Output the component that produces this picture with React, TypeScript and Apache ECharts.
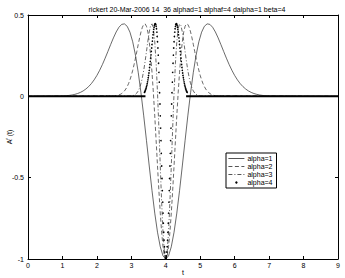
import React, { useEffect, useRef } from "react";
import * as echarts from "echarts";

const titleText = "rickert 20-Mar-2006 14  36 alphad=1 alphaf=4 dalpha=1 beta=4";
const seriesNames = ["alpha=1", "alpha=2", "alpha=3", "alpha=4"];
const xTicks = [0, 1, 2, 3, 4, 5, 6, 7, 8, 9];
const yTicks = [-1, -0.5, 0, 0.5];

const alpha1: number[][] = [
  [0, 0],
  [1.04, 0.0026], [1.12, 0.0039], [1.2, 0.0058], [1.28, 0.0084], [1.36, 0.0122], [1.44, 0.0173], [1.52, 0.0241], [1.6, 0.0331], [1.68, 0.0449], [1.76, 0.0598], [1.84, 0.0784], [1.92, 0.1012], [2.0, 0.1282], [2.08, 0.1598], [2.16, 0.1954], [2.24, 0.2346], [2.32, 0.2761], [2.4, 0.3185], [2.48, 0.3593], [2.56, 0.3957], [2.64, 0.4246], [2.72, 0.4424], [2.8, 0.4454], [2.88, 0.4304], [2.96, 0.3944], [3.04, 0.3355], [3.12, 0.253], [3.2, 0.1476], [3.28, 0.0219], [3.36, -0.12], [3.44, -0.2724], [3.52, -0.4282], [3.6, -0.5795], [3.68, -0.7178], [3.76, -0.8353], [3.84, -0.9248], [3.92, -0.9809], [4.0, -1],
  [4.08, -0.9809], [4.16, -0.9248], [4.24, -0.8353], [4.32, -0.7178], [4.4, -0.5795], [4.48, -0.4282], [4.56, -0.2724], [4.64, -0.12], [4.72, 0.0219], [4.8, 0.1476], [4.88, 0.253], [4.96, 0.3355], [5.04, 0.3944], [5.12, 0.4304], [5.2, 0.4454], [5.28, 0.4424], [5.36, 0.4246], [5.44, 0.3957], [5.52, 0.3593], [5.6, 0.3185], [5.68, 0.2761], [5.76, 0.2346], [5.84, 0.1954], [5.92, 0.1598], [6.0, 0.1282], [6.08, 0.1012], [6.16, 0.0784], [6.24, 0.0598], [6.32, 0.0449], [6.4, 0.0331], [6.48, 0.0241], [6.56, 0.0173], [6.64, 0.0122], [6.72, 0.0084], [6.8, 0.0058], [6.88, 0.0039], [6.96, 0.0026],
  [9, 0],
];

const alpha2: number[][] = [
  [0, 0],
  [2.52, 0.0026], [2.56, 0.0039], [2.6, 0.0058], [2.64, 0.0084], [2.68, 0.0122], [2.72, 0.0173], [2.76, 0.0241], [2.8, 0.0331], [2.84, 0.0449], [2.88, 0.0598], [2.92, 0.0784], [2.96, 0.1012], [3.0, 0.1282], [3.04, 0.1598], [3.08, 0.1954], [3.12, 0.2346], [3.16, 0.2761], [3.2, 0.3185], [3.24, 0.3593], [3.28, 0.3957], [3.32, 0.4246], [3.36, 0.4424], [3.4, 0.4454], [3.44, 0.4304], [3.48, 0.3944], [3.52, 0.3355], [3.56, 0.253], [3.6, 0.1476], [3.64, 0.0219], [3.68, -0.12], [3.72, -0.2724], [3.76, -0.4282], [3.8, -0.5795], [3.84, -0.7178], [3.88, -0.8353], [3.92, -0.9248], [3.96, -0.9809], [4.0, -1],
  [4.04, -0.9809], [4.08, -0.9248], [4.12, -0.8353], [4.16, -0.7178], [4.2, -0.5795], [4.24, -0.4282], [4.28, -0.2724], [4.32, -0.12], [4.36, 0.0219], [4.4, 0.1476], [4.44, 0.253], [4.48, 0.3355], [4.52, 0.3944], [4.56, 0.4304], [4.6, 0.4454], [4.64, 0.4424], [4.68, 0.4246], [4.72, 0.3957], [4.76, 0.3593], [4.8, 0.3185], [4.84, 0.2761], [4.88, 0.2346], [4.92, 0.1954], [4.96, 0.1598], [5.0, 0.1282], [5.04, 0.1012], [5.08, 0.0784], [5.12, 0.0598], [5.16, 0.0449], [5.2, 0.0331], [5.24, 0.0241], [5.28, 0.0173], [5.32, 0.0122], [5.36, 0.0084], [5.4, 0.0058], [5.44, 0.0039], [5.48, 0.0026],
  [9, 0],
];

const alpha3: number[][] = [
  [0, 0],
  [3.0, 0.0021], [3.04, 0.0039], [3.08, 0.007], [3.12, 0.0122], [3.16, 0.0204], [3.2, 0.0331], [3.24, 0.0519], [3.28, 0.0784], [3.32, 0.1141], [3.36, 0.1598], [3.4, 0.2146], [3.44, 0.2761], [3.48, 0.3393], [3.52, 0.3957], [3.56, 0.4351], [3.6, 0.4454], [3.64, 0.4152], [3.68, 0.3355], [3.72, 0.2031], [3.76, 0.0219], [3.8, -0.1953], [3.84, -0.4282], [3.88, -0.6507], [3.92, -0.8353], [3.96, -0.9573], [4.0, -1],
  [4.04, -0.9573], [4.08, -0.8353], [4.12, -0.6507], [4.16, -0.4282], [4.2, -0.1953], [4.24, 0.0219], [4.28, 0.2031], [4.32, 0.3355], [4.36, 0.4152], [4.4, 0.4454], [4.44, 0.4351], [4.48, 0.3957], [4.52, 0.3393], [4.56, 0.2761], [4.6, 0.2146], [4.64, 0.1598], [4.68, 0.1141], [4.72, 0.0784], [4.76, 0.0519], [4.8, 0.0331], [4.84, 0.0204], [4.88, 0.0122], [4.92, 0.007], [4.96, 0.0039], [5.0, 0.0021],
  [9, 0],
];

// alpha=4 is drawn with dots (one per sample)
const alpha4: number[][] = [
  [3.38, 0.0241], [3.39, 0.0283], [3.4, 0.0331], [3.41, 0.0386], [3.42, 0.0449], [3.43, 0.0519], [3.44, 0.0598], [3.45, 0.0686], [3.46, 0.0784], [3.47, 0.0892], [3.48, 0.1012], [3.49, 0.1141], [3.5, 0.1282], [3.51, 0.1434], [3.52, 0.1598], [3.53, 0.1771], [3.54, 0.1954], [3.55, 0.2146], [3.56, 0.2346], [3.57, 0.2552], [3.58, 0.2761], [3.59, 0.2973], [3.6, 0.3185], [3.61, 0.3393], [3.62, 0.3593], [3.63, 0.3782], [3.64, 0.3957], [3.65, 0.4113], [3.66, 0.4246], [3.67, 0.4351], [3.68, 0.4424], [3.69, 0.446], [3.7, 0.4454], [3.71, 0.4404], [3.72, 0.4304], [3.73, 0.4152], [3.74, 0.3944], [3.75, 0.3679], [3.76, 0.3355], [3.77, 0.2972], [3.78, 0.253], [3.79, 0.2031], [3.8, 0.1476], [3.81, 0.0871], [3.82, 0.0219], [3.83, -0.0474], [3.84, -0.12], [3.85, -0.1953], [3.86, -0.2724], [3.87, -0.3504], [3.88, -0.4282], [3.89, -0.5049], [3.9, -0.5795], [3.91, -0.6507], [3.92, -0.7178], [3.93, -0.7796], [3.94, -0.8353], [3.95, -0.8839], [3.96, -0.9248], [3.97, -0.9573], [3.98, -0.9809], [3.99, -0.9952], [4.0, -1],
  [4.01, -0.9952], [4.02, -0.9809], [4.03, -0.9573], [4.04, -0.9248], [4.05, -0.8839], [4.06, -0.8353], [4.07, -0.7796], [4.08, -0.7178], [4.09, -0.6507], [4.1, -0.5795], [4.11, -0.5049], [4.12, -0.4282], [4.13, -0.3504], [4.14, -0.2724], [4.15, -0.1953], [4.16, -0.12], [4.17, -0.0474], [4.18, 0.0219], [4.19, 0.0871], [4.2, 0.1476], [4.21, 0.2031], [4.22, 0.253], [4.23, 0.2972], [4.24, 0.3355], [4.25, 0.3679], [4.26, 0.3944], [4.27, 0.4152], [4.28, 0.4304], [4.29, 0.4404], [4.3, 0.4454], [4.31, 0.446], [4.32, 0.4424], [4.33, 0.4351], [4.34, 0.4246], [4.35, 0.4113], [4.36, 0.3957], [4.37, 0.3782], [4.38, 0.3593], [4.39, 0.3393], [4.4, 0.3185], [4.41, 0.2973], [4.42, 0.2761], [4.43, 0.2552], [4.44, 0.2346], [4.45, 0.2146], [4.46, 0.1954], [4.47, 0.1771], [4.48, 0.1598], [4.49, 0.1434], [4.5, 0.1282], [4.51, 0.1141], [4.52, 0.1012], [4.53, 0.0892], [4.54, 0.0784], [4.55, 0.0686], [4.56, 0.0598], [4.57, 0.0519], [4.58, 0.0449], [4.59, 0.0386], [4.6, 0.0331], [4.61, 0.0283], [4.62, 0.0241],
];
// the dense alpha=4 dots along zero merge into a thick line
const alpha4FlatLeft: number[][] = [[0, 0], [3.41, 0]];
const alpha4FlatRight: number[][] = [[4.59, 0], [9, 0]];

const FONT = "Liberation Sans, Arial, Helvetica, sans-serif";
const LINE = "#2a2a2a";

export default function App() {
  const ref = useRef<HTMLDivElement>(null);
  useEffect(() => {
    if (!ref.current) return;
    const chart = echarts.init(ref.current, undefined, { renderer: "svg" });
    const tickStyle = { show: true, inside: true, length: 3, lineStyle: { color: "#000", width: 1 } };
    const axisLine = { show: true, onZero: false, lineStyle: { color: "#000", width: 1 } };
    chart.setOption({
      animation: false,
      backgroundColor: "#fff",
      title: {
        text: titleText,
        left: 182,
        top: 1,
        textAlign: "center",
        textStyle: { fontSize: 7, fontWeight: "normal", color: "#000", fontFamily: FONT },
      },
      legend: {
        orient: "vertical",
        left: 226,
        top: 153,
        backgroundColor: "#fff",
        borderColor: "#000",
        borderWidth: 1,
        borderRadius: 0,
        padding: [2, 4, 2, 2],
        itemGap: 1,
        itemWidth: 16,
        itemHeight: 3,
        textStyle: { fontSize: 7, color: "#000", fontFamily: FONT, padding: [0, 0, 0, -2] },
        data: [
          { name: seriesNames[0], itemStyle: { opacity: 0 }, lineStyle: { width: 0.8 } },
          { name: seriesNames[1], itemStyle: { opacity: 0 }, lineStyle: { width: 0.8 } },
          { name: seriesNames[2], itemStyle: { opacity: 0 }, lineStyle: { width: 0.8 } },
          { name: seriesNames[3], lineStyle: { opacity: 0, width: 0 }, itemStyle: { color: "#000" } },
        ],
      },
      grid: { left: 28, right: 7, top: 15, bottom: 19, containLabel: false, outerBoundsMode: "none" },
      xAxis: [
        {
          type: "value",
          min: xTicks[0],
          max: xTicks[xTicks.length - 1],
          interval: 1,
          name: "t",
          nameLocation: "middle",
          nameGap: 10,
          nameMoveOverlap: false,
          nameTextStyle: { fontSize: 7, color: "#000", fontFamily: FONT },
          axisLine,
          axisTick: tickStyle,
          axisLabel: { fontSize: 7, color: "#000", fontFamily: FONT, margin: 3 },
          splitLine: { show: false },
        },
        {
          type: "value",
          position: "top",
          min: xTicks[0],
          max: xTicks[xTicks.length - 1],
          interval: 1,
          axisLine,
          axisTick: tickStyle,
          axisLabel: { show: false },
          splitLine: { show: false },
        },
      ],
      yAxis: [
        {
          type: "value",
          min: yTicks[0],
          max: yTicks[yTicks.length - 1],
          interval: 0.5,
          name: "{a|A}{s|f}{a|(t)}",
          nameLocation: "middle",
          nameGap: 15,
          nameMoveOverlap: false,
          nameRotate: 90,
          nameTextStyle: {
            fontSize: 7,
            color: "#000",
            fontFamily: FONT,
            rich: {
              a: { fontSize: 7, color: "#000", fontFamily: FONT },
              s: { fontSize: 5, color: "#000", fontFamily: FONT, verticalAlign: "top", padding: [0, 2, 3, 0] },
            },
          },
          axisLine,
          axisTick: tickStyle,
          axisLabel: { fontSize: 7, color: "#000", fontFamily: FONT, margin: 4 },
          splitLine: { show: false },
        },
        {
          type: "value",
          position: "right",
          min: yTicks[0],
          max: yTicks[yTicks.length - 1],
          interval: 0.5,
          axisLine,
          axisTick: tickStyle,
          axisLabel: { show: false },
          splitLine: { show: false },
        },
      ],
      series: [
        {
          name: seriesNames[0],
          type: "line",
          data: alpha1,
          symbol: "none",
          lineStyle: { color: LINE, width: 0.7, type: "solid" },
          itemStyle: { color: LINE },
        },
        {
          name: seriesNames[1],
          type: "line",
          data: alpha2,
          symbol: "none",
          lineStyle: { color: LINE, width: 0.7, type: [4, 2.5] },
          itemStyle: { color: LINE },
        },
        {
          name: seriesNames[2],
          type: "line",
          data: alpha3,
          symbol: "none",
          lineStyle: { color: LINE, width: 0.7, type: [4, 2, 1, 2] },
          itemStyle: { color: LINE },
        },
        {
          name: "alpha=4 flat left",
          type: "line",
          data: alpha4FlatLeft,
          symbol: "none",
          lineStyle: { color: "#000", width: 2 },
          silent: true,
        },
        {
          name: "alpha=4 flat right",
          type: "line",
          data: alpha4FlatRight,
          symbol: "none",
          lineStyle: { color: "#000", width: 2 },
          silent: true,
        },
        {
          name: seriesNames[3],
          type: "line",
          data: alpha4,
          symbol: "circle",
          symbolSize: 1.6,
          showSymbol: true,
          showAllSymbol: true,
          lineStyle: { opacity: 0, width: 0 },
          itemStyle: { color: "#000" },
        },
      ],
    });
    return () => chart.dispose();
  }, []);
  return <div ref={ref} style={{ position: "fixed", left: 0, top: 0, width: 345, height: 278 }} />;
}
